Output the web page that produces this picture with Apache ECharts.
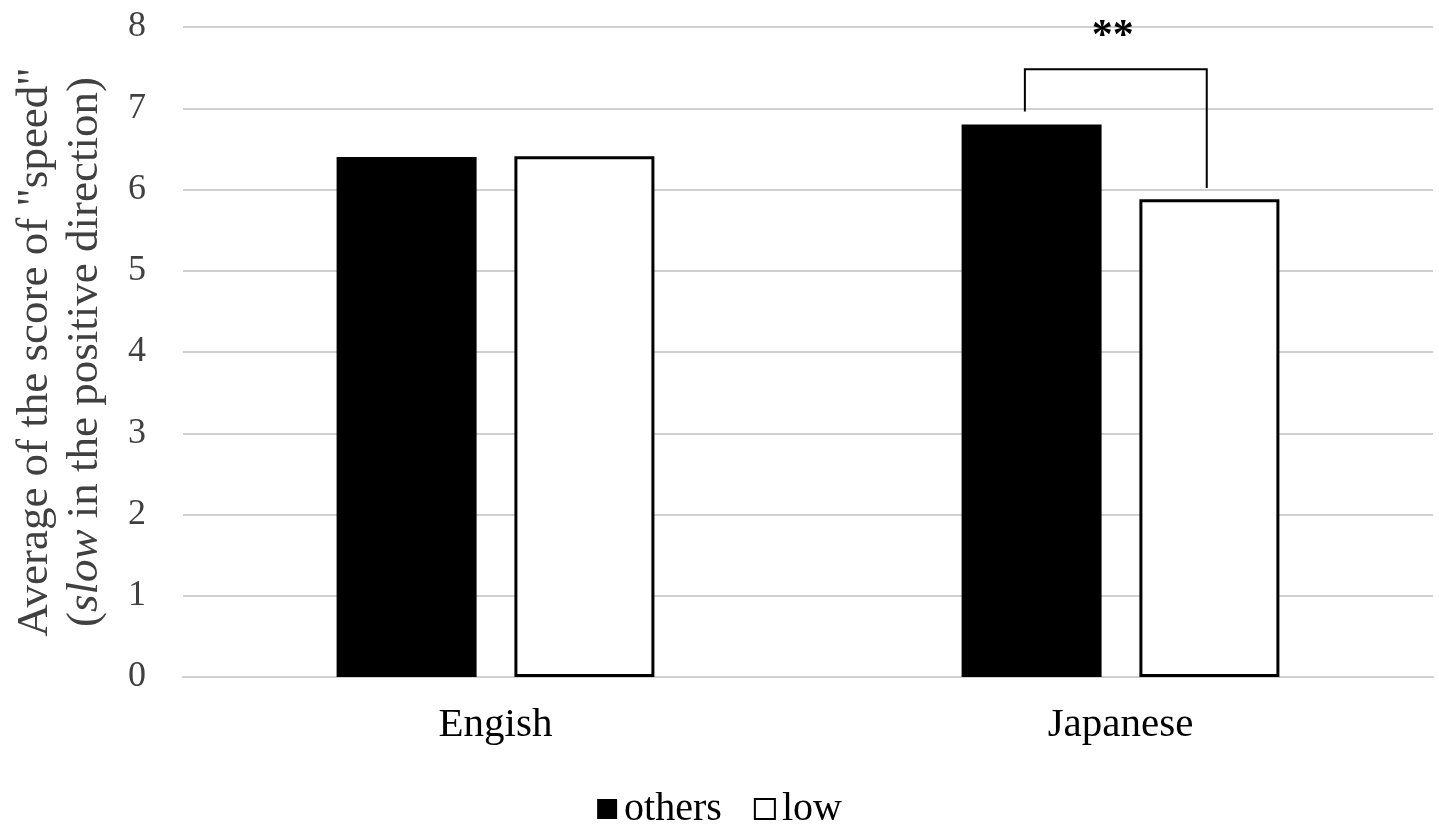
<!DOCTYPE html>
<html>
<head>
<meta charset="utf-8">
<script src="https://cdn.jsdelivr.net/npm/echarts@6/dist/echarts.min.js"></script>
<style>
html,body{margin:0;padding:0;background:#fff;}
#chart{width:1439px;height:826px;}
</style>
</head>
<body>
<div id="chart"></div>
<script>
const categories = ['Engish', 'Japanese'];
const othersValues = [6.40, 6.80];
const lowValues = [6.41, 5.88];
const yTicks = [0, 1, 2, 3, 4, 5, 6, 7, 8];
// significance bracket: [categoryIndex, topY, leftLegBottomY, rightLegBottomY, starsY]
const bracket = [[1, 7.48, 6.96, 6.02, 7.95]];
const bracketLabel = '**';

const FONT = '"Liberation Serif", "DejaVu Serif", serif';
const chart = echarts.init(document.getElementById('chart'));

chart.setOption({
  backgroundColor: '#fff',
  animation: false,
  grid: { left: 183, right: 6, top: 27, bottom: 149, containLabel: false, outerBoundsMode: 'none' },
  legend: {
    bottom: -8,
    left: 'center',
    itemWidth: 20,
    itemHeight: 20,
    itemGap: 32,
    textStyle: { fontFamily: FONT, fontSize: 40, color: '#000', padding: [0, 0, 0, 2] },
    data: [
      { name: 'others', icon: 'rect' },
      { name: 'low', icon: 'rect' }
    ]
  },
  xAxis: {
    type: 'category',
    data: categories,
    axisLine: { show: true, lineStyle: { color: '#d0d0d0', width: 2 } },
    axisTick: { show: false },
    axisLabel: { fontFamily: FONT, fontSize: 41, color: '#000', margin: 28 }
  },
  yAxis: {
    type: 'value',
    min: yTicks[0],
    max: yTicks[yTicks.length - 1],
    interval: 1,
    name: 'Average of the score of "speed"\n({i|slow} in the positive direction)',
    nameLocation: 'middle',
    nameGap: 73,
    nameTextStyle: {
      fontFamily: FONT, fontSize: 45, color: '#404040', lineHeight: 50,
      rich: { i: { fontFamily: FONT, fontSize: 45, color: '#404040', fontStyle: 'italic', lineHeight: 50 } }
    },
    axisLine: { show: false },
    axisTick: { show: false },
    axisLabel: { fontFamily: FONT, fontSize: 36, color: '#404040', margin: 37,
      formatter: v => yTicks.includes(v) ? String(v) : '' },
    splitLine: { show: true, lineStyle: { color: '#d0d0d0', width: 2 } }
  },
  series: [
    {
      name: 'others',
      type: 'bar',
      data: othersValues,
      barWidth: '22.4%',
      barGap: '27%',
      itemStyle: { color: '#000', borderColor: '#000', borderWidth: 0 }
    },
    {
      name: 'low',
      type: 'bar',
      data: lowValues,
      barWidth: '22.4%',
      itemStyle: { color: '#fff', borderColor: '#000', borderWidth: 3 }
    },
    {
      type: 'custom',
      silent: true,
      z: 10,
      data: bracket,
      encode: { x: 0, y: 1 },
      renderItem: function (params, api) {
        const ci = api.value(0);
        const top = api.coord([ci, api.value(1)]);
        const bw = api.size([1, 0])[0];
        const xl = top[0] - bw * 0.153;
        const xr = top[0] + bw * 0.138;
        const yl = api.coord([ci, api.value(2)])[1];
        const yr = api.coord([ci, api.value(3)])[1];
        const ys = api.coord([ci, api.value(4)])[1];
        return {
          type: 'group',
          children: [
            {
              type: 'polyline',
              shape: { points: [[xl, yl], [xl, top[1]], [xr, top[1]], [xr, yr]] },
              style: { stroke: '#000', lineWidth: 2, fill: null }
            },
            {
              type: 'text',
              style: {
                x: (xl + xr) / 2 - 3, y: ys + 6,
                text: bracketLabel,
                textAlign: 'center', textVerticalAlign: 'middle',
                font: 'bold 42px ' + FONT, fill: '#000'
              }
            }
          ]
        };
      }
    }
  ]
});
</script>
</body>
</html>
